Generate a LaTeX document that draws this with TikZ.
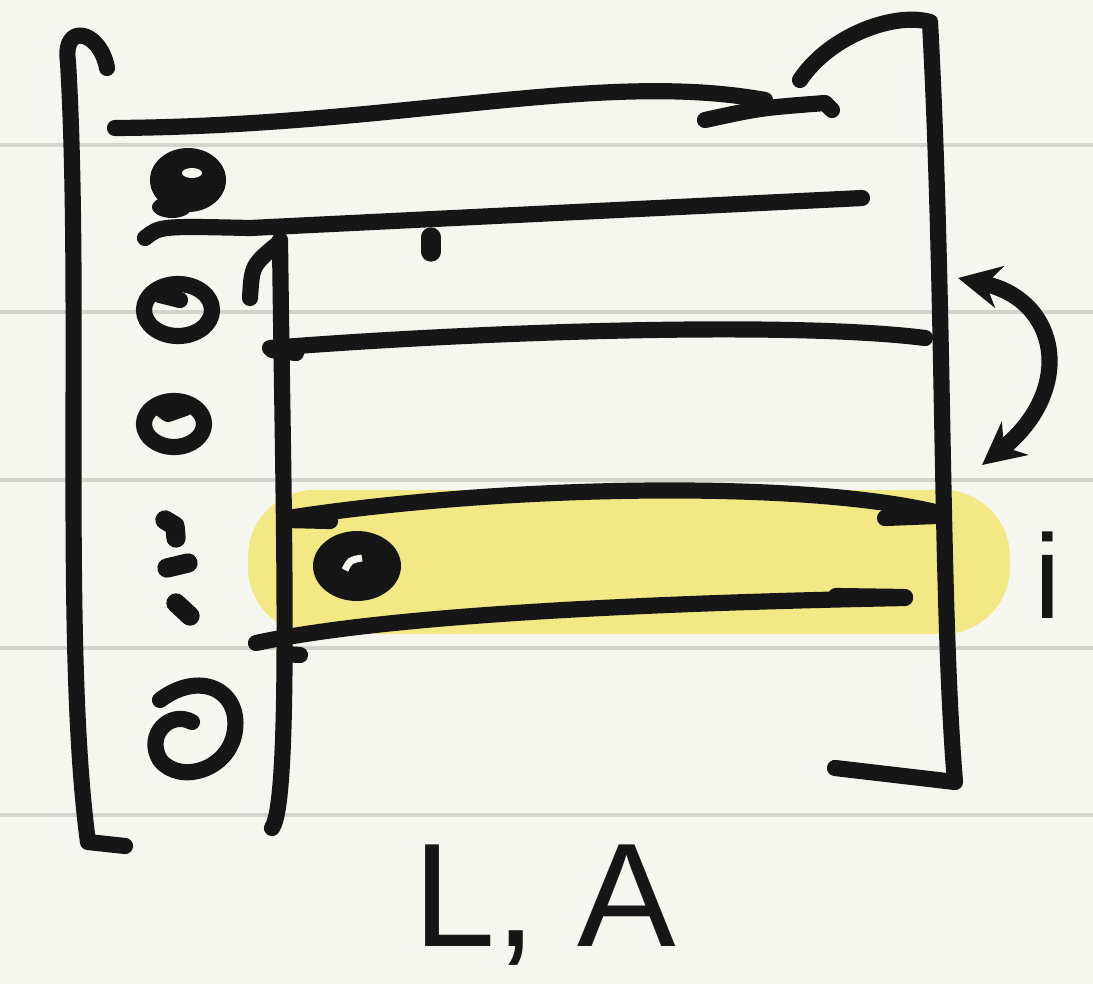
\documentclass[tikz,border=0pt]{standalone}
\usepackage{fontspec}
\setmainfont{Liberation Sans}
\usetikzlibrary{arrows.meta,positioning}
\definecolor{paper}{RGB}{246,246,241}
\definecolor{ruleline}{RGB}{212,212,204}
\definecolor{ink}{RGB}{22,22,22}
\definecolor{marker}{RGB}{242,233,132}

\begin{document}
\begin{tikzpicture}[
      x=0.01cm,y=-0.01cm,
      stroke/.style={draw=ink,line width=4.6pt,line cap=round,line join=round},
      rule/.style={draw=ruleline,line width=1.2pt},
      arrow/.style={stroke,{Stealth[length=12pt,width=12pt]}-{Stealth[length=12pt,width=12pt]}},
      every node/.style={text=ink}
    ]
      % paper and ruled lines
      \fill[paper] (0,0) rectangle (1093,984);
      \useasboundingbox (0,0) rectangle (1093,984);
      \foreach \y in {145,312,480,648,815}
        \draw[rule] (0,\y) -- (1093,\y);

      % highlighted row
      \fill[marker,rounded corners=19pt] (248,490) rectangle (1010,634);

      % brackets
      \draw[stroke] (107,68) .. controls (100,30) and (62,22) .. (68,62)
        .. controls (82,300) and (62,650) .. (88,842) -- (125,846);
      \draw[stroke] (800,80) .. controls (830,35) and (895,12) .. (930,22)
        .. controls (945,300) and (940,600) .. (955,782) -- (835,768);

      % header line
      \draw[stroke] (115,128) .. controls (400,126) and (600,70) .. (765,100);
      \draw[stroke] (705,120) .. controls (760,108) .. (825,103) -- (832,110);

      % rows
      \draw[stroke] (145,238) .. controls (160,226) .. (250,228) -- (862,198);
      \draw[stroke,line width=5.5pt] (431,237) -- (431,252);
      \draw[stroke] (270,348) .. controls (500,330) and (800,322) .. (925,338);
      \draw[stroke] (272,350) -- (296,353);
      \draw[stroke] (288,518) .. controls (500,485) and (800,480) .. (935,512);
      \draw[stroke] (288,520) -- (330,521);
      \draw[stroke] (885,518) -- (935,516);
      \draw[stroke] (256,643) .. controls (400,612) and (700,602) .. (905,598);
      \draw[stroke] (836,596) -- (905,597);
      \draw[stroke] (286,654) -- (300,655);

      % column divider
      \draw[stroke] (250,298) .. controls (252,265) .. (280,242);
      \draw[stroke] (280,240) .. controls (283,500) and (292,800) .. (272,828);

      % left column entries
      \fill[ink] (188,180) ellipse (38 and 32);
      \fill[ink] (172,207) ellipse (20 and 11);
      \fill[paper] (192,173) ellipse (10 and 5);
      \draw[stroke] (178,310) ellipse (34 and 26);
      \draw[stroke] (160,295) -- (180,300);
      \draw[stroke] (174,424) ellipse (30 and 23);
      \draw[stroke] (160,408) -- (168,414) -- (185,408);
      \draw[stroke,line width=5.5pt] (165,520) -- (175,526) -- (176,538);
      \draw[stroke,line width=5.5pt] (167,568) -- (188,563);
      \draw[stroke,line width=5.5pt] (176,603) -- (190,616);
      \draw[stroke] (160,700) .. controls (200,670) and (240,690) .. (235,730)
        .. controls (230,770) and (180,785) .. (160,760)
        .. controls (145,735) and (170,710) .. (192,722);

      % marked entry
      \fill[ink] (357,566) ellipse (44 and 35);
      \draw[paper,line width=2pt] (345,570) .. controls (350,560) .. (362,558);

      % row swap arrow
      \coordinate (swapTop) at (958,278);
      \coordinate (swapBot) at (982,465);
      \draw[arrow] (swapTop) .. controls (1060,300) and (1075,390) .. (swapBot);

      % labels
      \node[font=\fontsize{34}{40}\selectfont] (rowIdx) at (1048,575) {i};
      \node[font=\fontsize{42}{48}\selectfont] (names) at (545,905) {L, A};
    \end{tikzpicture}
\end{document}
